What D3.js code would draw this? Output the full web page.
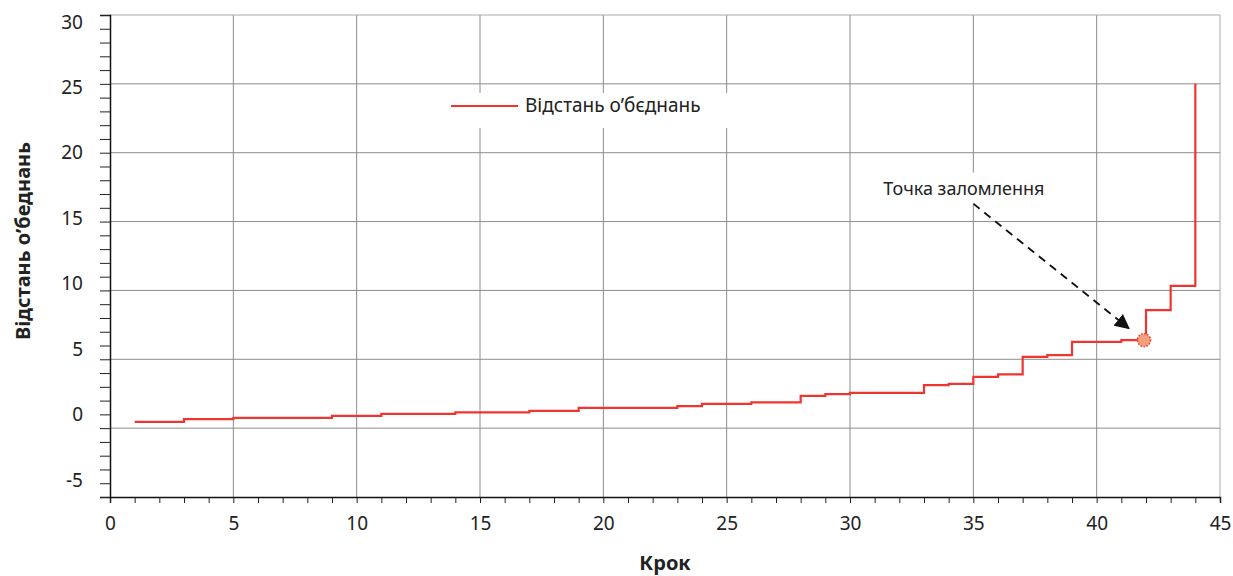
<!DOCTYPE html>
<html>
<head>
<meta charset="utf-8">
<script src="https://cdn.jsdelivr.net/npm/d3@7"></script>
<style>
  body { margin: 0; background: #fff; }
  text { font-family: "Noto Sans", sans-serif; fill: #222; }
</style>
</head>
<body>
<div class="box"></div>
<script>
// données
const steps = d3.range(1, 45) // étapes 1..44
const distances = [
  0.46, 0.46, 0.65, 0.65, 0.75, 0.75, 0.75, 0.75, 0.89, 0.89,
  1.04, 1.04, 1.04, 1.14, 1.14, 1.14, 1.26, 1.26, 1.47, 1.47,
  1.47, 1.47, 1.60, 1.76, 1.76, 1.87, 1.87, 2.35, 2.47, 2.56,
  2.56, 2.56, 3.12, 3.22, 3.73, 3.90, 5.18, 5.30, 6.27, 6.27,
  6.39, 8.57, 10.33, 25
]
const xTicks = [0, 5, 10, 15, 20, 25, 30, 35, 40, 45]
const yTicks = [-5, 0, 5, 10, 15, 20, 25, 30]
const seriesName = 'Відстань о’бєднань'
const xTitle = 'Крок'
const yTitle = 'Відстань о’беднань'
const noteText = 'Точка заломлення'
const breakStep = 42
const noteFrom = [35, 16.3] // départ de la flèche (unités des données)
const noteTo = [41.3, 7.25] // pointe de la flèche

const W = 1233, H = 576
const margin = {top: 15, right: 13, bottom: 79, left: 110}
const graphWidth = W - margin.left - margin.right
const graphHeight = H - margin.top - margin.bottom

const svg = d3.select('.box')
  .append('svg')
  .attr('width', W)
  .attr('height', H)

const graph = svg.append('g')
  .attr('transform', `translate(${margin.left}, ${margin.top})`)

const x = d3.scaleLinear().domain([0, 45]).range([0, graphWidth])
const y = d3.scaleLinear().domain([-5, 30]).range([graphHeight, 0])
// les étiquettes de l'axe y sont un peu décalées dans l'original
const yLabel = d3.scaleLinear().domain([-5, 30]).range([graphHeight - 17, 7])

// grille
graph.append('g')
  .selectAll('line')
  .data(xTicks.filter(d => d > 0))
  .enter().append('line')
  .attr('x1', d => x(d)).attr('x2', d => x(d))
  .attr('y1', 0).attr('y2', graphHeight)
  .attr('stroke', d => d === 45 ? '#aaa' : '#8c8c8c')
  .attr('stroke-width', 1)
graph.append('g')
  .selectAll('line')
  .data(yTicks.filter(d => d >= 0))
  .enter().append('line')
  .attr('x1', 0).attr('x2', graphWidth)
  .attr('y1', d => y(d)).attr('y2', d => y(d))
  .attr('stroke', d => d === 30 ? '#aaa' : '#8c8c8c')
  .attr('stroke-width', 1)

// axes
const axeX = d3.axisBottom(x)
  .tickValues(d3.range(0, 46))
  .tickSize(6)
  .tickFormat(d => xTicks.includes(d) ? d : '')
const axeY = d3.axisLeft(y)
  .tickValues(d3.range(-5, 31))
  .tickSize(10)
  .tickFormat(d => yTicks.includes(d) ? d : '')

const groupX = graph.append('g')
  .attr('transform', `translate(0, ${graphHeight})`)
  .call(axeX)
groupX.select('.domain').attr('stroke', '#111').attr('stroke-width', 1.5)
groupX.selectAll('.tick line').attr('stroke', '#222')
groupX.selectAll('.tick text')
  .attr('y', 20)
  .style('font-size', '19px')
  .style('font-family', '"Noto Sans", sans-serif')
  .attr('fill', '#222')

const groupY = graph.append('g').call(axeY)
groupY.select('.domain').attr('stroke', '#111').attr('stroke-width', 1.5)
groupY.selectAll('.tick line').attr('stroke', '#222')
groupY.selectAll('.tick text')
  .attr('x', -27)
  .attr('dy', d => (yLabel(d) - y(d)) + 6)
  .style('font-size', '19px')
  .style('font-family', '"Noto Sans", sans-serif')
  .attr('fill', '#222')

// courbe en escalier
const line = d3.line()
  .x((d, i) => x(steps[i]))
  .y(d => y(d))
  .curve(d3.curveStepAfter)

graph.append('path')
  .datum(distances)
  .attr('d', line)
  .attr('fill', 'none')
  .attr('stroke', '#ee3530')
  .attr('stroke-width', 2.2)

// point de rupture
const breakValue = distances[steps.indexOf(breakStep) - 1]
graph.append('circle')
  .attr('cx', x(breakStep) - 2)
  .attr('cy', y(breakValue))
  .attr('r', 6.5)
  .attr('fill', '#f4a07c')
  .attr('stroke', '#ee3530')
  .attr('stroke-width', 1.5)
  .attr('stroke-dasharray', '1.5,1.5')

// annotation
svg.append('defs').append('marker')
  .attr('id', 'arrow')
  .attr('viewBox', '0 0 10 10')
  .attr('refX', 9).attr('refY', 5)
  .attr('markerWidth', 15).attr('markerHeight', 15)
  .attr('markerUnits', 'userSpaceOnUse')
  .attr('orient', 'auto')
  .append('path')
  .attr('d', 'M0,0 L10,5 L0,10 z')
  .attr('fill', '#111')

const noteG = graph.append('g')
const noteLabel = noteG.append('text')
  .attr('x', x(noteFrom[0]) - 90)
  .attr('y', y(noteFrom[1]) - 9)
  .style('font-size', '18px')
  .text(noteText)
const nb = noteLabel.node().getBBox()
noteG.insert('rect', 'text')
  .attr('x', nb.x - 6).attr('y', nb.y - 3)
  .attr('width', nb.width + 12).attr('height', nb.height + 8)
  .attr('fill', '#fff')
noteG.append('line')
  .attr('x1', x(noteFrom[0])).attr('y1', y(noteFrom[1]))
  .attr('x2', x(noteTo[0])).attr('y2', y(noteTo[1]))
  .attr('stroke', '#111')
  .attr('stroke-width', 1.8)
  .attr('stroke-dasharray', '8,6')
  .attr('marker-end', 'url(#arrow)')

// légende
const legend = graph.append('g')
  .attr('transform', `translate(${x(13.5)}, ${y(23.4)})`)
legend.append('rect')
  .attr('x', 0).attr('y', -13)
  .attr('width', 300).attr('height', 35)
  .attr('fill', '#fff')
legend.append('line')
  .attr('x1', 8).attr('x2', 75)
  .attr('y1', 0).attr('y2', 0)
  .attr('stroke', '#ee3530')
  .attr('stroke-width', 2)
legend.append('text')
  .attr('x', 82).attr('y', 6)
  .style('font-size', '19px')
  .text(seriesName)

// titres des axes
svg.append('text')
  .attr('x', x(22.5) + margin.left)
  .attr('y', 570)
  .attr('text-anchor', 'middle')
  .style('font-size', '20px')
  .style('font-weight', 'bold')
  .text(xTitle)
svg.append('text')
  .attr('transform', 'translate(30, 241) rotate(-90)')
  .attr('text-anchor', 'middle')
  .style('font-size', '20px')
  .style('font-weight', 'bold')
  .text(yTitle)
</script>
</body>
</html>
